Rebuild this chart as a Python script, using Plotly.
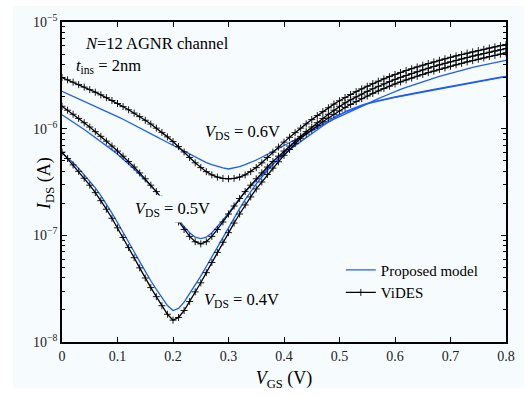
import numpy as np
import plotly.graph_objects as go

# V_GS sweep (V)
vgs = [i / 100 for i in range(81)]

# log10(I_DS / A), ViDES (black, markers)
vides_04_log = [-6.22, -6.28, -6.34, -6.40, -6.465, -6.53, -6.60, -6.675, -6.755, -6.84,
                -6.93, -7.02, -7.115, -7.21, -7.305, -7.40, -7.49, -7.575, -7.66, -7.74,
                -7.795, -7.77, -7.705, -7.62, -7.53, -7.445, -7.35, -7.255, -7.16, -7.065,
                -6.975, -6.885, -6.80, -6.715, -6.64, -6.565, -6.50, -6.43, -6.37, -6.31,
                -6.25, -6.195, -6.14, -6.09, -6.05, -6.01, -5.97, -5.935, -5.90, -5.866,
                -5.834, -5.802, -5.773, -5.746, -5.719, -5.694, -5.669, -5.646, -5.623, -5.602,
                -5.581, -5.562, -5.543, -5.526, -5.508, -5.492, -5.475, -5.46, -5.444, -5.43,
                -5.415, -5.401, -5.388, -5.374, -5.362, -5.349, -5.337, -5.324, -5.313, -5.301,
                -5.289]
vides_05_log = [-5.79, -5.827, -5.865, -5.904, -5.944, -5.985, -6.028, -6.072, -6.117, -6.163,
                -6.21, -6.258, -6.308, -6.36, -6.415, -6.47, -6.53, -6.59, -6.655, -6.725,
                -6.80, -6.875, -6.945, -7.01, -7.06, -7.08, -7.06, -7.01, -6.945, -6.875,
                -6.80, -6.725, -6.655, -6.59, -6.53, -6.47, -6.415, -6.36, -6.308, -6.258,
                -6.21, -6.163, -6.117, -6.072, -6.028, -5.985, -5.944, -5.904, -5.865, -5.827,
                -5.79, -5.758, -5.73, -5.702, -5.676, -5.65, -5.626, -5.603, -5.58, -5.559,
                -5.538, -5.519, -5.501, -5.483, -5.466, -5.449, -5.433, -5.417, -5.402, -5.387,
                -5.373, -5.36, -5.346, -5.333, -5.32, -5.308, -5.296, -5.283, -5.272, -5.26,
                -5.249]
vides_06_log = [-5.52, -5.542, -5.564, -5.587, -5.61, -5.634, -5.658, -5.683, -5.709, -5.736,
                -5.764, -5.793, -5.823, -5.854, -5.887, -5.921, -5.957, -5.995, -6.035, -6.077,
                -6.121, -6.168, -6.218, -6.27, -6.32, -6.365, -6.403, -6.433, -6.454, -6.466,
                -6.47, -6.466, -6.454, -6.433, -6.403, -6.365, -6.32, -6.27, -6.22, -6.172,
                -6.126, -6.081, -6.037, -5.995, -5.955, -5.915, -5.877, -5.84, -5.804, -5.77,
                -5.738, -5.708, -5.68, -5.653, -5.627, -5.602, -5.578, -5.555, -5.533, -5.512,
                -5.492, -5.473, -5.455, -5.438, -5.421, -5.405, -5.389, -5.374, -5.359, -5.345,
                -5.331, -5.318, -5.305, -5.292, -5.28, -5.268, -5.256, -5.244, -5.233, -5.222,
                -5.211]

# log10(I_DS / A), proposed model (blue lines)
model_04_log = [-6.225, -6.27, -6.32, -6.372, -6.43, -6.49, -6.555, -6.628, -6.707, -6.791,
                -6.88, -6.968, -7.061, -7.154, -7.247, -7.34, -7.426, -7.506, -7.585, -7.658,
                -7.705, -7.685, -7.627, -7.548, -7.464, -7.383, -7.292, -7.2, -7.107, -7.014,
                -6.925, -6.835, -6.75, -6.665, -6.59, -6.517, -6.455, -6.39, -6.335, -6.28,
                -6.225, -6.175, -6.128, -6.085, -6.048, -6.015, -5.983, -5.952, -5.922, -5.893,
                -5.866, -5.846, -5.822, -5.801, -5.783, -5.767, -5.753, -5.74, -5.728, -5.717,
                -5.707, -5.696, -5.686, -5.676, -5.666, -5.656, -5.646, -5.636, -5.626, -5.616,
                -5.606, -5.596, -5.586, -5.576, -5.567, -5.558, -5.549, -5.54, -5.531, -5.522,
                -5.513]
model_05_log = [-5.87, -5.903, -5.937, -5.972, -6.008, -6.045, -6.082, -6.12, -6.159, -6.199,
                -6.24, -6.284, -6.33, -6.378, -6.429, -6.48, -6.536, -6.592, -6.653, -6.719,
                -6.79, -6.857, -6.919, -6.976, -7.018, -7.03, -7.018, -6.976, -6.919, -6.857,
                -6.79, -6.719, -6.653, -6.592, -6.536, -6.48, -6.429, -6.378, -6.33, -6.284,
                -6.24, -6.199, -6.159, -6.12, -6.082, -6.045, -6.008, -5.972, -5.937, -5.903,
                -5.87, -5.842, -5.818, -5.797, -5.779, -5.763, -5.749, -5.736, -5.724, -5.713,
                -5.703, -5.692, -5.682, -5.672, -5.662, -5.652, -5.642, -5.632, -5.622, -5.612,
                -5.602, -5.592, -5.582, -5.572, -5.563, -5.554, -5.545, -5.536, -5.527, -5.518,
                -5.509]
model_06_log = [-5.65, -5.673, -5.696, -5.719, -5.742, -5.765, -5.789, -5.813, -5.837, -5.862,
                -5.887, -5.912, -5.938, -5.964, -5.991, -6.018, -6.046, -6.074, -6.102, -6.13,
                -6.158, -6.186, -6.213, -6.24, -6.268, -6.294, -6.318, -6.338, -6.355, -6.368,
                -6.378, -6.368, -6.355, -6.338, -6.318, -6.294, -6.268, -6.24, -6.213, -6.186,
                -6.158, -6.13, -6.102, -6.074, -6.046, -6.018, -5.991, -5.964, -5.938, -5.912,
                -5.887, -5.862, -5.837, -5.813, -5.789, -5.765, -5.742, -5.719, -5.696, -5.673,
                -5.65, -5.631, -5.612, -5.594, -5.576, -5.559, -5.542, -5.526, -5.51, -5.495,
                -5.48, -5.466, -5.452, -5.439, -5.426, -5.414, -5.402, -5.391, -5.38, -5.37,
                -5.36]

x_ticks = [0, 0.1, 0.2, 0.3, 0.4, 0.5, 0.6, 0.7, 0.8]
x_ticktext = ["0", "0.1", "0.2", "0.3", "0.4", "0.5", "0.6", "0.7", "0.8"]
y_ticks = [1e-8, 1e-7, 1e-6, 1e-5]
y_ticktext = ["10<sup>\u22128</sup>", "10<sup>\u22127</sup>", "10<sup>\u22126</sup>", "10<sup>\u22125</sup>"]
y_minor = [m * 10.0 ** e for e in (-8, -7, -6) for m in range(2, 10)]

BLUE = "#1f5cff"
FONT = "Liberation Serif"
BG = "#f6fbfd"

fig = go.Figure()

model_sets = [model_04_log, model_05_log, model_06_log]
vides_sets = [vides_04_log, vides_05_log, vides_06_log]

for i, m in enumerate(model_sets):
    fig.add_trace(go.Scatter(
        x=vgs, y=np.power(10.0, m), mode="lines",
        line=dict(color=BLUE, width=1.3),
        name="Proposed model", legendgroup="model", showlegend=(i == 0)))

for i, v in enumerate(vides_sets):
    fig.add_trace(go.Scatter(
        x=vgs, y=np.power(10.0, v), mode="lines+markers",
        line=dict(color="black", width=1.3),
        marker=dict(symbol="cross-thin", size=5, line=dict(color="black", width=0.9)),
        name="ViDES", legendgroup="vides", showlegend=(i == 0)))

annots = [
    dict(x=0.037, y=np.log10(6.3e-6), text="<i>N</i>=12 AGNR channel", xanchor="left"),
    dict(x=0.022, y=np.log10(3.9e-6), text="<i>t</i><sub>ins</sub> = 2nm", xanchor="left"),
    dict(x=0.254, y=np.log10(9.3e-7), text="<i>V</i><sub>DS</sub> = 0.6V", xanchor="left"),
    dict(x=0.124, y=np.log10(1.77e-7), text="<i>V</i><sub>DS</sub> = 0.5V", xanchor="left",
         bgcolor=BG, borderpad=3),
    dict(x=0.252, y=np.log10(2.5e-8), text="<i>V</i><sub>DS</sub> = 0.4V", xanchor="left"),
]
for a in annots:
    fig.add_annotation(xref="x", yref="y", showarrow=False, yanchor="middle",
                       font=dict(family=FONT, size=16.5, color="black"), **a)

# y-axis title placed close to the axis, as in the reference
fig.add_annotation(xref="paper", yref="paper", x=-0.036, y=0.494, showarrow=False,
                   textangle=-90, xanchor="center", yanchor="middle",
                   text="<i>I</i><sub>DS</sub> (A)",
                   font=dict(family=FONT, size=18, color="black"))

fig.add_shape(type="rect", xref="paper", yref="paper", layer="below",
              x0=-0.11, x1=1.04, y0=-0.143, y1=1.05,
              fillcolor=BG, line=dict(width=0))

axis_common = dict(showline=True, linecolor="black", linewidth=1.5, mirror="ticks",
                   ticks="inside", ticklen=5, tickwidth=1, tickcolor="black",
                   showgrid=False, zeroline=False,
                   tickfont=dict(family=FONT, size=14, color="#222"))

fig.update_xaxes(range=[0, 0.8], tickvals=x_ticks, ticktext=x_ticktext,
                 title=dict(text="<i>V</i><sub>GS</sub> (V)", font=dict(family=FONT, size=18, color="black"),
                            standoff=9),
                 **axis_common)
fig.update_yaxes(type="log", range=[-8, -5], tickvals=y_ticks, ticktext=y_ticktext,
                 minor=dict(tickvals=y_minor, ticks="inside", ticklen=3, tickcolor="black", showgrid=False),
                 **axis_common)

fig.update_layout(
    width=527, height=397,
    margin=dict(l=62, r=16, t=15, b=54),
    paper_bgcolor="white", plot_bgcolor=BG,
    font=dict(family=FONT, color="black"),
    legend=dict(x=0.628, y=0.276, xanchor="left", yanchor="top",
                bgcolor="rgba(0,0,0,0)", borderwidth=0,
                font=dict(family=FONT, size=15, color="black"),
                tracegroupgap=0, itemwidth=30),
)

fig.write_html("out.html")
